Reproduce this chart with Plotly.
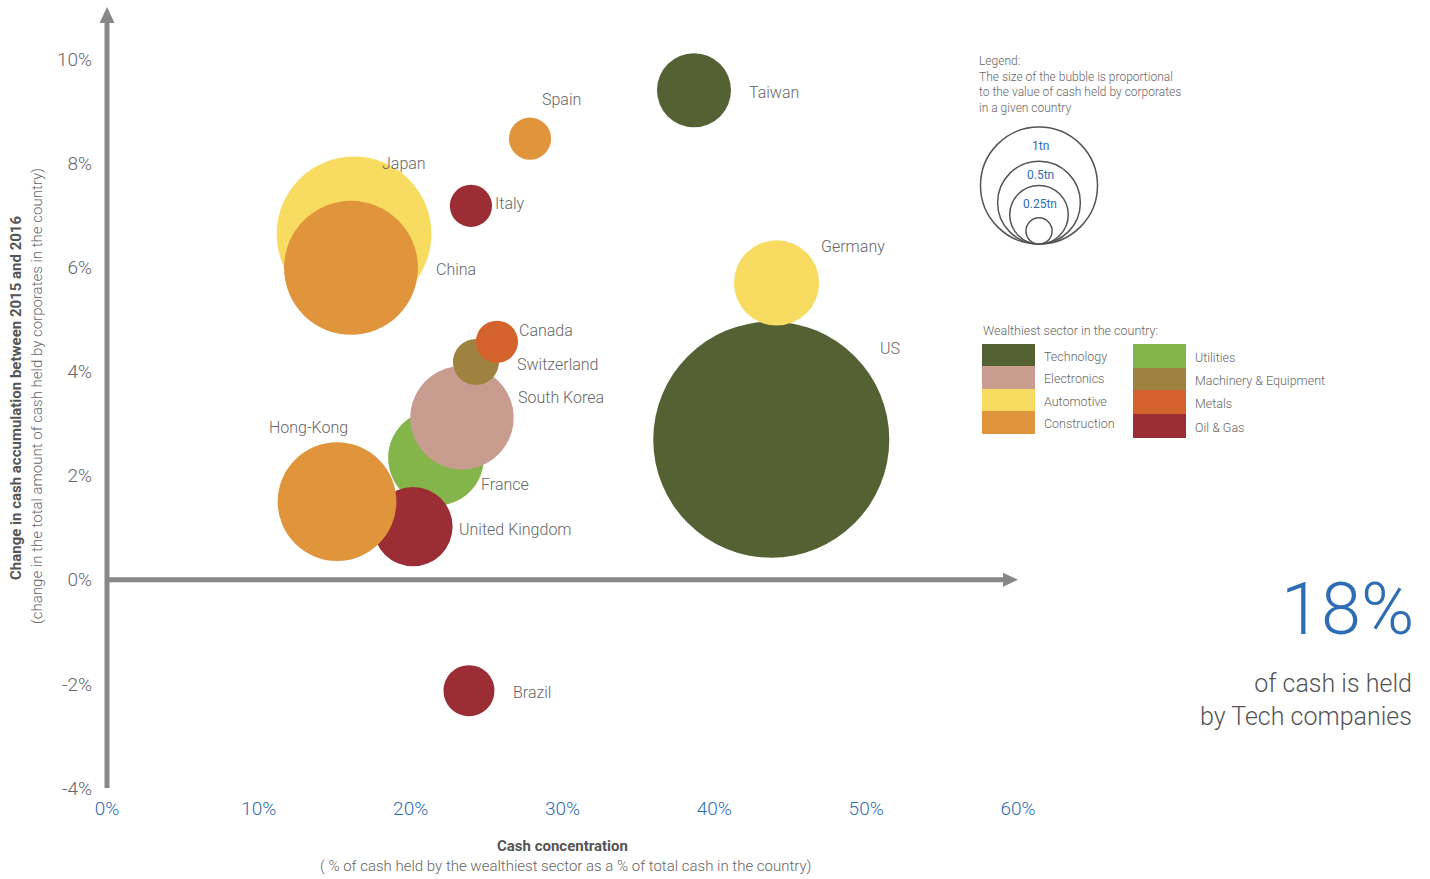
import plotly.graph_objects as go

# ---------------- data ----------------
COUNTRIES = ["US", "Germany", "Taiwan", "Japan", "China", "Spain", "Italy", "France",
             "South Korea", "Switzerland", "Canada", "United Kingdom", "Hong-Kong", "Brazil"]
CASH_CONCENTRATION = [43.75, 44.1, 38.66, 16.27, 16.07, 27.86, 23.97, 21.67,
                      23.38, 24.3, 25.68, 20.15, 15.15, 23.84]          # % (x)
CASH_CHANGE = [2.69, 5.70, 9.40, 6.64, 5.99, 8.47, 7.18, 2.34,
               3.11, 4.18, 4.57, 1.02, 1.50, -2.13]                     # % (y)
CASH_TN = [4.07, 0.53, 0.40, 1.75, 1.31, 0.13, 0.13, 0.67,
           0.78, 0.155, 0.13, 0.46, 1.03, 0.19]                         # bubble size (tn)
SECTOR = ["Technology", "Automotive", "Technology", "Automotive", "Construction",
          "Construction", "Oil & Gas", "Utilities", "Electronics",
          "Machinery & Equipment", "Metals", "Oil & Gas", "Construction", "Oil & Gas"]

SECTORS_COL1 = ["Technology", "Electronics", "Automotive", "Construction"]
SECTORS_COL2 = ["Utilities", "Machinery & Equipment", "Metals", "Oil & Gas"]

X_TICKS = [0, 10, 20, 30, 40, 50, 60]
X_TICK_TEXT = ["0%", "10%", "20%", "30%", "40%", "50%", "60%"]
Y_TICKS = [-4, -2, 0, 2, 4, 6, 8, 10]
Y_TICK_TEXT = ["-4%", "-2%", "0%", "2%", "4%", "6%", "8%", "10%"]

LEGEND_TN = [1, 0.5, 0.25, 0.05]
LEGEND_TN_TEXT = ["1tn", "0.5tn", "0.25tn"]

# ---------------- styles ----------------
SECTOR_COLORS = {
    "Technology": "#546133",
    "Electronics": "#C89C8F",
    "Automotive": "#F8DC62",
    "Construction": "#E0953D",
    "Utilities": "#84B54A",
    "Machinery & Equipment": "#9E8340",
    "Metals": "#D4622C",
    "Oil & Gas": "#9A2E34",
}
FONT = "Roboto, Open Sans, sans-serif"
LIGHT = 300
GRAY = "#666666"
DARK = "#555555"
BLUE = "#2E6DB4"
AXIS_GRAY = "#878787"

W, H = 1430, 879
ML, MR, MT, MB = 107, 412, 59, 91
PW, PH = W - ML - MR, H - MT - MB
D1TN = 117.0                      # diameter (px) of a 1tn bubble
SIZEREF = 2.0 / D1TN ** 2


def px(x):
    return (x - ML) / PW


def py(y):
    return (H - MB - y) / PH


def lf(size, color=GRAY, weight=LIGHT):
    return dict(family=FONT, size=size, color=color, weight=weight)


LABEL_OFFSETS = {   # pixel offsets of label left-middle from bubble centre (dx, dy down)
    "US": (107, -91), "Germany": (42, -36), "Taiwan": (53, 2), "Japan": (26, -70),
    "China": (83, 2), "Spain": (10, -39), "Italy": (22, -2), "France": (43, 27),
    "South Korea": (54, -20), "Switzerland": (39, 2), "Canada": (20, -11),
    "United Kingdom": (44, 3), "Hong-Kong": (-70, -74), "Brazil": (42, 2),
}

fig = go.Figure()
fig.add_trace(go.Scatter(
    x=CASH_CONCENTRATION, y=CASH_CHANGE, mode="markers",
    marker=dict(size=CASH_TN, sizemode="area", sizeref=SIZEREF,
                color=[SECTOR_COLORS[s] for s in SECTOR], opacity=1,
                line=dict(width=0)),
    text=COUNTRIES, hoverinfo="text", showlegend=False, cliponaxis=False,
))

annotations = []
for c, xv, yv in zip(COUNTRIES, CASH_CONCENTRATION, CASH_CHANGE):
    dx, dy = LABEL_OFFSETS[c]
    annotations.append(dict(x=xv, y=yv, xref="x", yref="y", text=c, showarrow=False,
                            xanchor="left", yanchor="middle", xshift=dx, yshift=-dy,
                            font=lf(16)))

shapes = []
# axes lines with arrows
shapes.append(dict(type="line", xref="paper", yref="paper", x0=0, x1=0, y0=0, y1=py(22),
                   line=dict(color=AXIS_GRAY, width=5)))
shapes.append(dict(type="path", xref="paper", yref="paper", xsizemode="pixel", ysizemode="pixel",
                   xanchor=0, yanchor=py(23), path="M -7.5,0 L 7.5,0 L 0,16 Z",
                   fillcolor=AXIS_GRAY, line=dict(width=0)))
shapes.append(dict(type="line", xref="paper", yref="y", x0=0, x1=px(1004), y0=0, y1=0,
                   line=dict(color=AXIS_GRAY, width=5)))
shapes.append(dict(type="path", xref="paper", yref="y", xsizemode="pixel", ysizemode="pixel",
                   xanchor=px(1003), yanchor=0, path="M 0,-7 L 15,0 L 0,7 Z",
                   fillcolor=AXIS_GRAY, line=dict(width=0)))

# size legend
annotations.append(dict(x=px(977), y=py(52), xref="paper", yref="paper", xanchor="left", yanchor="top",
                        align="left", showarrow=False,
                        text="Legend:<br>The size of the bubble is proportional<br>to the value of cash held by corporates<br>in a given country",
                        font=lf(12)))
LEG_BOTTOM = 244
tops = []
for v in LEGEND_TN:
    r = D1TN * v ** 0.5 / 2
    tops.append(LEG_BOTTOM - 2 * r)
    shapes.append(dict(type="circle", xref="paper", yref="paper", xsizemode="pixel", ysizemode="pixel",
                       xanchor=px(1039), yanchor=py(LEG_BOTTOM), x0=-r, x1=r, y0=0, y1=2 * r,
                       line=dict(color="#555555", width=1.5), fillcolor="rgba(0,0,0,0)"))
for i, t in enumerate(LEGEND_TN_TEXT):
    ymid = (tops[i] + tops[i + 1]) / 2 + 2
    annotations.append(dict(x=px(1040), y=py(ymid), xref="paper", yref="paper", text=t, showarrow=False,
                            xanchor="center", yanchor="middle", font=lf(12, BLUE, 400)))

# sector legend
annotations.append(dict(x=px(981), y=py(330), xref="paper", yref="paper", xanchor="left", yanchor="middle",
                        showarrow=False, text="Wealthiest sector in the country:", font=lf(12.5)))
for col, (sx0, sx1, lx, rows) in zip(
        [SECTORS_COL1, SECTORS_COL2],
        [(982, 1035, 1042, [344, 366, 389, 411, 434]), (1133, 1186, 1193, [344, 368, 390, 414, 438])]):
    for i, s in enumerate(col):
        shapes.append(dict(type="rect", xref="paper", yref="paper", x0=px(sx0), x1=px(sx1),
                           y0=py(rows[i + 1]), y1=py(rows[i]), fillcolor=SECTOR_COLORS[s],
                           line=dict(width=0)))
        annotations.append(dict(x=px(lx), y=py((rows[i] + rows[i + 1]) / 2 + 1), xref="paper", yref="paper",
                                xanchor="left", yanchor="middle", showarrow=False, text=s, font=lf(12.5)))

# big number
annotations.append(dict(x=px(1416), y=py(609), xref="paper", yref="paper", xanchor="right", yanchor="middle",
                        showarrow=False, text="18%", font=lf(72, BLUE)))
annotations.append(dict(x=px(1414), y=py(700), xref="paper", yref="paper", xanchor="right", yanchor="middle",
                        showarrow=False, align="right", text="of cash is held<br>by Tech companies",
                        font=lf(25, DARK)))

# axis titles
annotations.append(dict(x=px(562), y=py(846), xref="paper", yref="paper", xanchor="center", yanchor="middle",
                        showarrow=False, text="<b>Cash concentration</b>", font=lf(15, DARK, 700)))
annotations.append(dict(x=px(565), y=py(866), xref="paper", yref="paper", xanchor="center", yanchor="middle",
                        showarrow=False,
                        text="( % of cash held by the wealthiest sector as a % of total cash in the country)",
                        font=lf(15)))
annotations.append(dict(x=px(16), y=py(398), xref="paper", yref="paper", xanchor="center", yanchor="middle",
                        showarrow=False, textangle=-90,
                        text="<b>Change in cash accumulation between 2015 and 2016</b>",
                        font=lf(15, DARK, 700)))
annotations.append(dict(x=px(37), y=py(396), xref="paper", yref="paper", xanchor="center", yanchor="middle",
                        showarrow=False, textangle=-90,
                        text="(change in the total amount of cash held by corporates in the country)",
                        font=lf(15)))

fig.update_layout(
    width=W, height=H, margin=dict(l=ML, r=MR, t=MT, b=MB),
    paper_bgcolor="white", plot_bgcolor="white",
    xaxis=dict(range=[0, 60], tickvals=X_TICKS, ticktext=X_TICK_TEXT, showgrid=False, zeroline=False,
               showline=False, ticks="", ticklabelstandoff=7, tickfont=lf(19, BLUE)),
    yaxis=dict(range=[-4, 10], tickvals=Y_TICKS, ticktext=Y_TICK_TEXT, showgrid=False, zeroline=False,
               showline=False, ticks="", ticklabelstandoff=14, tickfont=lf(19)),
    shapes=shapes, annotations=annotations, showlegend=False,
)

fig.write_html("out.html")
